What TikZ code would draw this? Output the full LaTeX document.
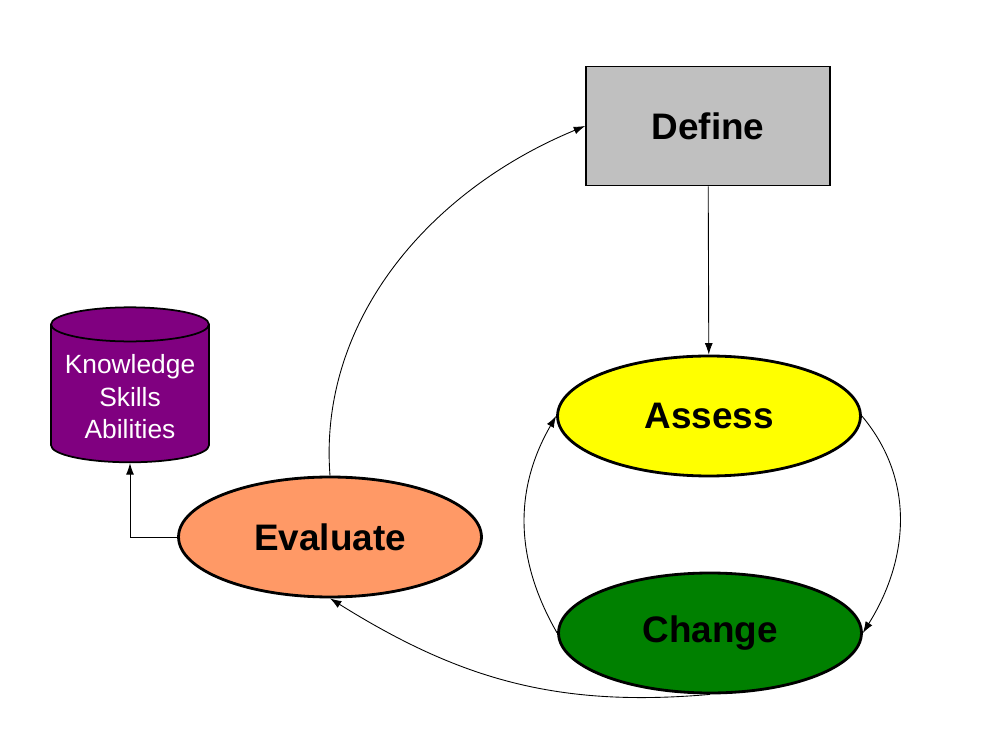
\documentclass[tikz,border=0pt]{standalone}
\usepackage{fontspec}
\setmainfont{Liberation Sans}
\usepackage{xcolor}
\usetikzlibrary{shapes,arrows,arrows.meta,positioning}

\definecolor{definegray}{HTML}{C0C0C0}
\definecolor{assessyellow}{HTML}{FFFF00}
\definecolor{changegreen}{HTML}{008000}
\definecolor{evalorange}{HTML}{FF9966}
\definecolor{ksapurple}{HTML}{800080}

\begin{document}
\begin{tikzpicture}[
    x=0.02cm, y=-0.02cm,
    phase/.style={ellipse, draw, line width=1.6pt, minimum width=6.06cm, minimum height=2.4cm, text centered, font=\fontsize{21}{25}\selectfont\bfseries},
    box/.style={rectangle, draw, line width=1pt, fill=definegray, minimum width=4.88cm, minimum height=2.38cm, text centered, font=\fontsize{21}{25}\selectfont\bfseries},
    store/.style={cylinder, shape border rotate=90, aspect=0.24, draw, line width=1pt, fill=ksapurple, text=white, minimum width=3.16cm, minimum height=3.1cm, align=center, font=\fontsize{15}{18.5}\selectfont},
    arrow/.style={-{Latex[length=6.5pt,width=4.5pt]}, line width=0.5pt}
]
    \useasboundingbox (0,0) rectangle (983,742);

    % Nodes
    \node[box] (define) at (708,126) {Define};
    \node[phase, fill=assessyellow] (assess) at (709,416) {Assess};
    \node[phase, fill=changegreen] (change) at (710,633) {Change};
    \node[phase, fill=evalorange] (evaluate) at (330,537) {Evaluate};
    \node[store] (ksa) at (130,397) {Knowledge\\Skills\\Abilities};

    % Arrows
    \draw[arrow] (define) -- (assess);
    \draw[arrow] (assess.east) to[out=-50, in=58] (change.east);
    \draw[arrow] (change.west) to[out=120, in=240] (assess.west);
    \draw[arrow] (change.south) to[out=185, in=-32] (evaluate.south);
    \draw[arrow] (evaluate.north) .. controls (318,320) and (430,190) .. (define.west);
    \draw[arrow] (evaluate.west) -| (ksa.south);
\end{tikzpicture}
\end{document}
